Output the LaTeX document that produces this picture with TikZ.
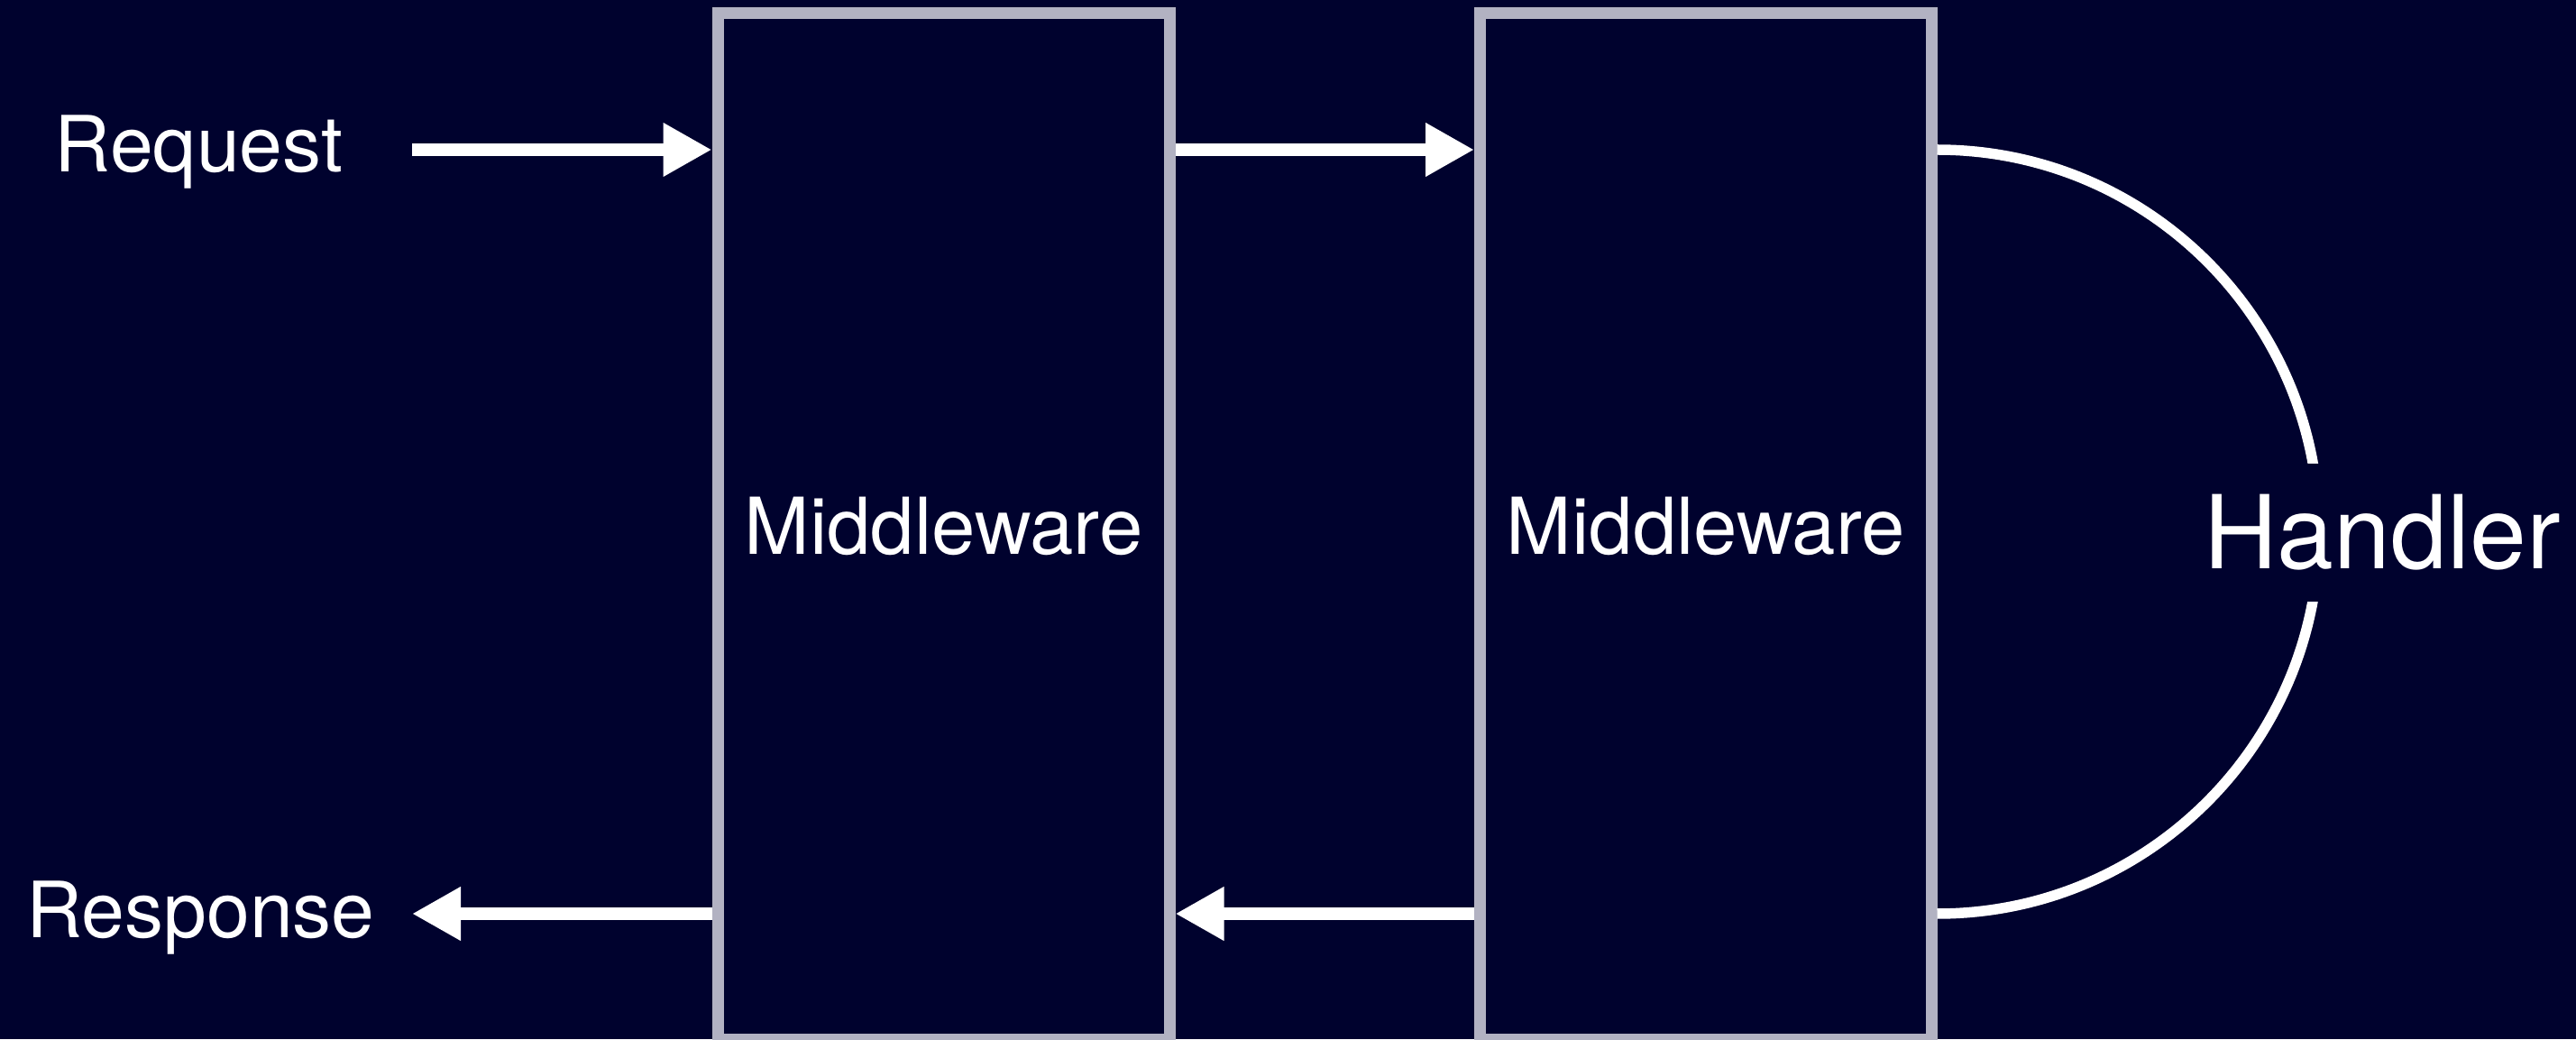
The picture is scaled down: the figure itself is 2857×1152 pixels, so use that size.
\documentclass[tikz,border=0pt]{standalone}
\usepackage{fontspec}
\setmainfont{TeX Gyre Heros}
\usetikzlibrary{arrows.meta}
\definecolor{bgc}{RGB}{0,2,46}
\definecolor{boxc}{RGB}{178,178,194}
\begin{document}
\begin{tikzpicture}[x=1pt,y=1pt,
  mw/.style={draw=boxc, line width=13pt, fill=bgc, minimum width=501pt, minimum height=1138pt, inner sep=0pt,
    text=white, font=\fontsize{87}{100}\selectfont, text height=62pt, text depth=0pt},
  lbl/.style={text=white, font=\fontsize{86}{100}\selectfont, inner sep=0pt},
  arr/.style={draw=white, line width=13.5pt, -{Triangle[length=54pt,width=56pt]}},
  ret/.style={draw=white, line width=11.5pt}]
\useasboundingbox (0,0) rectangle (2857,1152);
\fill[bgc] (0,0) rectangle (2857,1152);
\node[mw] (m1) at (1046.5,568.5) {Middleware};
\node[mw, minimum width=500.5pt] (m2) at (1891.75,568.5) {Middleware};
\node[lbl, anchor=base] (req) at (220.5,961) {Request};
\node[lbl, anchor=base] (resp) at (222.5,113) {Response};
\coordinate (reqtail) at (457,986);
\coordinate (resptip) at (457,139);
\draw[arr] (reqtail) -- (m1.west |- reqtail);
\draw[arr] (m1.east |- reqtail) -- (m2.west |- reqtail);
\draw[arr] (m2.west |- resptip) -- (m1.east |- resptip);
\draw[arr] (m1.west |- resptip) -- (resptip);
\draw[ret] (m2.east |- reqtail) arc[start angle=90, end angle=-90, radius=423.5pt];
\node[lbl, font=\fontsize{113}{130}\selectfont, fill=bgc, text height=81pt, text depth=0pt,
  minimum height=153pt, minimum width=400pt] (h) at (2642,561.5) {Handler};
\end{tikzpicture}
\end{document}
